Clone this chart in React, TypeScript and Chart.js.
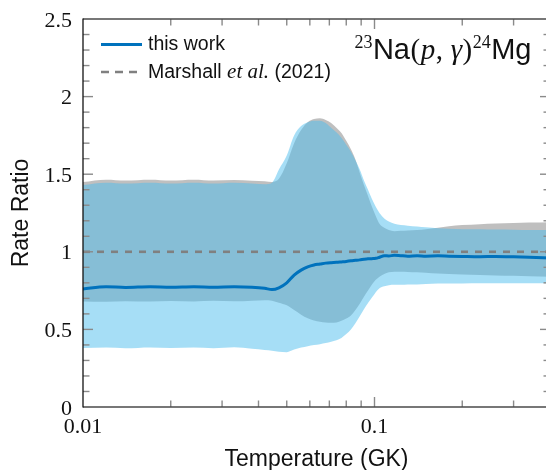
import React, { useEffect, useRef } from "react";
import { Chart, registerables } from "chart.js";

Chart.register(...registerables);

// ---- data ----
const temperature = [
  0.01, 0.012, 0.014, 0.017, 0.02, 0.024, 0.028, 0.033, 0.038, 0.042,
  0.0445, 0.047, 0.05, 0.053, 0.056, 0.059, 0.062, 0.065, 0.068, 0.071,
  0.074, 0.077, 0.08, 0.083, 0.086, 0.089, 0.092, 0.095, 0.098, 0.101,
  0.104, 0.108, 0.112, 0.117, 0.123, 0.13, 0.14, 0.15, 0.165, 0.18,
  0.2, 0.23, 0.26, 0.3, 0.34, 0.4,
];
const thisWorkMedian = [
  0.76, 0.775, 0.77, 0.775, 0.772, 0.775, 0.772, 0.775, 0.772, 0.765,
  0.757, 0.768, 0.8, 0.85, 0.882, 0.903, 0.915, 0.921, 0.927, 0.93,
  0.932, 0.935, 0.938, 0.942, 0.945, 0.948, 0.952, 0.955, 0.956, 0.958,
  0.965, 0.975, 0.973, 0.978, 0.975, 0.972, 0.975, 0.972, 0.974, 0.972,
  0.97, 0.968, 0.97, 0.968, 0.965, 0.96,
];
const thisWorkLower = [
  0.38, 0.383, 0.379, 0.384, 0.38, 0.383, 0.379, 0.385, 0.375, 0.367,
  0.362, 0.356, 0.353, 0.37, 0.383, 0.392, 0.4, 0.405, 0.412, 0.42,
  0.43, 0.445, 0.47, 0.5, 0.54, 0.585, 0.63, 0.67, 0.705, 0.74,
  0.765, 0.778, 0.785, 0.788, 0.788, 0.79, 0.79, 0.792, 0.795, 0.795,
  0.796, 0.797, 0.797, 0.797, 0.797, 0.797,
];
const thisWorkUpper = [
  1.43, 1.445, 1.44, 1.445, 1.44, 1.445, 1.44, 1.445, 1.44, 1.435,
  1.445, 1.53, 1.62, 1.75, 1.81, 1.835, 1.845, 1.845, 1.83, 1.8,
  1.77, 1.735, 1.69, 1.645, 1.59, 1.53, 1.46, 1.4, 1.34, 1.29,
  1.25, 1.215, 1.195, 1.18, 1.172, 1.168, 1.163, 1.158, 1.152, 1.148,
  1.145, 1.145, 1.143, 1.142, 1.14, 1.14,
];
const marshallLower = [
  0.68, 0.678, 0.682, 0.679, 0.683, 0.68, 0.684, 0.681, 0.685, 0.688,
  0.685, 0.672, 0.655, 0.625, 0.595, 0.572, 0.558, 0.55, 0.545, 0.543,
  0.545, 0.555, 0.57, 0.59, 0.625, 0.665, 0.71, 0.75, 0.79, 0.82,
  0.84, 0.857, 0.868, 0.872, 0.872, 0.87, 0.868, 0.865, 0.86, 0.857,
  0.853, 0.85, 0.847, 0.845, 0.842, 0.84,
];
const marshallUpper = [
  1.45, 1.465, 1.46, 1.465, 1.46, 1.465, 1.46, 1.462, 1.458, 1.455,
  1.45, 1.47, 1.57, 1.7, 1.785, 1.835, 1.855, 1.86, 1.85, 1.83,
  1.8, 1.765, 1.715, 1.66, 1.595, 1.51, 1.43, 1.36, 1.29, 1.23,
  1.18, 1.155, 1.14, 1.133, 1.135, 1.138, 1.14, 1.145, 1.155, 1.165,
  1.172, 1.178, 1.182, 1.185, 1.188, 1.19,
];
const marshallRatio = 1;

const xMin = 0.01;
const xMax = 0.4;
const yMin = 0;
const yMax = 2.5;
const yMajorTicks = [0, 0.5, 1, 1.5, 2, 2.5];
const yTickLabels = ["0", "0.5", "1", "1.5", "2", "2.5"];
const yMinorTicks = [
  0.1, 0.2, 0.3, 0.4, 0.6, 0.7, 0.8, 0.9, 1.1, 1.2, 1.3, 1.4, 1.6, 1.7, 1.8,
  1.9, 2.1, 2.2, 2.3, 2.4,
];
const xMajorTicks = [0.01, 0.1];
const xTickLabels = ["0.01", "0.1"];
const xMinorTicks = [0.02, 0.03, 0.04, 0.05, 0.06, 0.07, 0.08, 0.09, 0.2, 0.3];

const CANVAS_W = 560;
const CANVAS_H = 470;

const SERIF = '"Liberation Serif", "DejaVu Serif", serif';
const SANS = '"Liberation Sans", "DejaVu Sans", sans-serif';

const decorPlugin = {
  id: "decor",
  afterDatasetsDraw(chart: any) {
    const { ctx, chartArea: a, scales } = chart;
    const x = scales.x;
    const y = scales.y;
    const seg = (x1: number, y1: number, x2: number, y2: number) => {
      ctx.beginPath();
      ctx.moveTo(x1, y1);
      ctx.lineTo(x2, y2);
      ctx.stroke();
    };
    ctx.save();
    // inward ticks
    ctx.strokeStyle = "#8a8a8a";
    ctx.lineWidth = 1.4;
    const minorLen = 6.5;
    const majorLen = 10;
    yMinorTicks.forEach((v) => {
      const py = y.getPixelForValue(v);
      seg(a.left, py, a.left + minorLen, py);
      seg(a.right, py, a.right - minorLen, py);
    });
    yMajorTicks.forEach((v) => {
      if (v === yMin || v === yMax) return;
      const py = y.getPixelForValue(v);
      seg(a.left, py, a.left + majorLen, py);
      seg(a.right, py, a.right - majorLen, py);
    });
    xMinorTicks.forEach((v) => {
      const px = x.getPixelForValue(v);
      seg(px, a.bottom, px, a.bottom - minorLen);
      seg(px, a.top, px, a.top + minorLen);
    });
    xMajorTicks.forEach((v) => {
      if (v === xMin || v === xMax) return;
      const px = x.getPixelForValue(v);
      seg(px, a.bottom, px, a.bottom - majorLen);
      seg(px, a.top, px, a.top + majorLen);
    });

    // frame
    ctx.strokeStyle = "#4a4a4a";
    ctx.lineWidth = 1.3;
    seg(a.left, a.top, a.right, a.top);
    seg(a.left, a.bottom, a.right, a.bottom);
    seg(a.right, a.top, a.right, a.bottom);
    ctx.strokeStyle = "#111";
    seg(a.left, a.top - 0.6, a.left, a.bottom + 0.6);

    // tick labels
    ctx.fillStyle = "#111";
    ctx.font = `22px ${SERIF}`;
    ctx.textAlign = "right";
    ctx.textBaseline = "alphabetic";
    yMajorTicks.forEach((v, i) => {
      const py = y.getPixelForValue(v);
      ctx.fillText(yTickLabels[i], a.left - 11, py + 7.5);
    });
    ctx.textAlign = "center";
    xMajorTicks.forEach((v, i) => {
      const px = x.getPixelForValue(v);
      ctx.fillText(xTickLabels[i], px, a.bottom + 26);
    });

    // axis titles
    ctx.font = `23px ${SANS}`;
    ctx.textAlign = "center";
    ctx.fillText("Temperature (GK)", 316.5, a.bottom + 59);
    ctx.save();
    ctx.translate(28, (a.top + a.bottom) / 2);
    ctx.rotate(-Math.PI / 2);
    ctx.fillText("Rate Ratio", 0, 0);
    ctx.restore();

    // legend
    ctx.textAlign = "left";
    ctx.strokeStyle = "#0072BD";
    ctx.lineWidth = 3;
    seg(101, 44.5, 142, 44.5);
    ctx.strokeStyle = "#808080";
    ctx.lineWidth = 2.5;
    ctx.setLineDash([8, 6]);
    seg(101, 72, 142, 72);
    ctx.setLineDash([]);
    ctx.font = `19.5px ${SANS}`;
    ctx.fillText("this work", 148, 50);
    let lx = 148;
    const part = (t: string, font: string, bx: number, by: number) => {
      ctx.font = font;
      ctx.fillText(t, bx, by);
      return ctx.measureText(t).width;
    };
    lx += part("Marshall ", `19.5px ${SANS}`, lx, 78);
    lx += part("et al.", `italic 21px ${SERIF}`, lx, 78);
    lx += part(" (2021)", `19.5px ${SANS}`, lx, 78);

    // reaction label, right-aligned
    const segs: [string, string, number][] = [
      ["23", `18px ${SERIF}`, -11],
      ["Na", `29px ${SANS}`, 0],
      ["(", `29px ${SERIF}`, 0],
      ["p", `italic 29px ${SERIF}`, 0],
      [", ", `29px ${SERIF}`, 0],
      ["\u03b3", `italic 29px ${SERIF}`, 0],
      [")", `29px ${SERIF}`, 0],
      ["24", `18px ${SERIF}`, -11],
      ["Mg", `29px ${SANS}`, 0],
    ];
    let total = 0;
    segs.forEach(([t, f]) => {
      ctx.font = f;
      total += ctx.measureText(t).width + 0.5;
    });
    let rx = 532 - total;
    segs.forEach(([t, f, dy]) => {
      ctx.font = f;
      ctx.fillText(t, rx, 59 + dy);
      rx += ctx.measureText(t).width + 0.5;
    });
    ctx.restore();
  },
};

export default function App() {
  const canvasRef = useRef<HTMLCanvasElement | null>(null);

  useEffect(() => {
    if (!canvasRef.current) return;
    const pts = (ys: number[]) => temperature.map((t, i) => ({ x: t, y: ys[i] }));
    const clear = "rgba(0,0,0,0)";
    const chart = new Chart(canvasRef.current, {
      type: "line",
      data: {
        datasets: [
          {
            label: "this work",
            data: pts(thisWorkMedian),
            borderColor: "#0072BD",
            borderWidth: 3,
            pointRadius: 0,
            fill: false,
            cubicInterpolationMode: "monotone",
            order: 0,
          },
          {
            label: "Marshall et al. (2021)",
            data: [
              { x: xMin, y: marshallRatio },
              { x: xMax, y: marshallRatio },
            ],
            borderColor: "#808080",
            borderWidth: 2.6,
            borderDash: [7, 7],
            pointRadius: 0,
            fill: false,
            order: 1,
          },
          {
            label: "this work lower",
            data: pts(thisWorkLower),
            borderColor: clear,
            borderWidth: 0,
            pointRadius: 0,
            fill: false,
            cubicInterpolationMode: "monotone",
            order: 2,
          },
          {
            label: "this work upper",
            data: pts(thisWorkUpper),
            borderColor: clear,
            borderWidth: 0,
            pointRadius: 0,
            fill: "-1",
            backgroundColor: "rgba(77,190,238,0.5)",
            cubicInterpolationMode: "monotone",
            order: 2,
          },
          {
            label: "Marshall lower",
            data: pts(marshallLower),
            borderColor: clear,
            borderWidth: 0,
            pointRadius: 0,
            fill: false,
            cubicInterpolationMode: "monotone",
            order: 3,
          },
          {
            label: "Marshall upper",
            data: pts(marshallUpper),
            borderColor: clear,
            borderWidth: 0,
            pointRadius: 0,
            fill: "-1",
            backgroundColor: "rgba(128,128,128,0.5)",
            cubicInterpolationMode: "monotone",
            order: 3,
          },
        ],
      },
      options: {
        responsive: false,
        maintainAspectRatio: false,
        devicePixelRatio: 1,
        animation: false,
        events: [],
        layout: { padding: { left: 83, right: CANVAS_W - 550, top: 19, bottom: 63 } },
        scales: {
          x: { type: "logarithmic", min: xMin, max: xMax, display: false },
          y: { type: "linear", min: yMin, max: yMax, display: false },
        },
        plugins: {
          legend: { display: false },
          tooltip: { enabled: false },
        },
      },
      plugins: [decorPlugin],
    } as any);
    return () => chart.destroy();
  }, []);

  return (
    <div
      style={{
        position: "fixed",
        left: 0,
        top: 0,
        width: 546,
        height: 470,
        overflow: "hidden",
        background: "#fff",
      }}
    >
      <canvas
        ref={canvasRef}
        width={CANVAS_W}
        height={CANVAS_H}
        style={{ display: "block", width: CANVAS_W, height: CANVAS_H }}
      />
    </div>
  );
}
